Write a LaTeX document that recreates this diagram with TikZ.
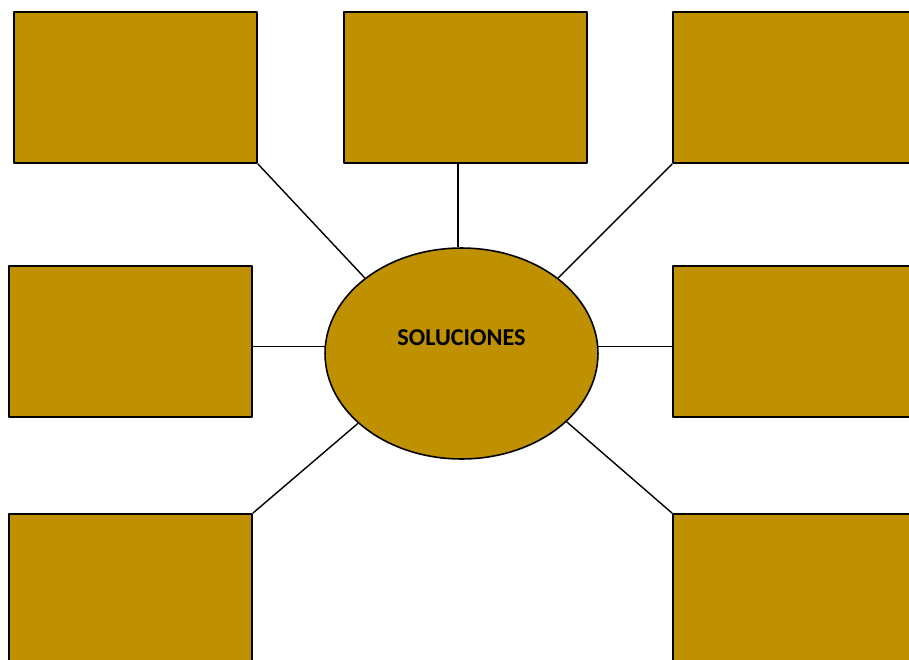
\documentclass[tikz,border=0pt]{standalone}
\usepackage{fontspec}
\setmainfont{Carlito}
\usetikzlibrary{shapes.geometric}
\definecolor{oro}{HTML}{BF9000}
\begin{document}
\begin{tikzpicture}[x=0.02cm, y=-0.02cm, line join=round,
		caja/.style={draw=black, fill=oro, line width=0.9pt, minimum width=4.86cm, minimum height=3.02cm, inner sep=0pt},
		centro/.style={ellipse, draw=black, fill=oro, line width=0.9pt, minimum width=5.46cm, minimum height=4.22cm, inner sep=0pt},
		rama/.style={draw=black, line width=0.8pt}]
		% Page frame
		\useasboundingbox (0,0) rectangle (909,659);
		\clip (0,0) rectangle (909,659);
		% Boxes round the centre
		\node[caja] (arrizq) at (135.5, 87.5) {};
		\node[caja] (arrcen) at (465.5, 87.5) {};
		\node[caja] (arrder) at (794.5, 87.5) {};
		\node[caja] (medizq) at (130.5, 341.5) {};
		\node[caja] (medder) at (794.5, 341.5) {};
		\node[caja] (abaizq) at (130.5, 589.5) {};
		\node[caja] (abader) at (794.5, 589.5) {};
		% Central ellipse
		\node[centro, label={[font=\bfseries\fontsize{13.8}{15}\selectfont, yshift=0.32cm]center:SOLUCIONES}] (sol) at (461.5, 353.5) {};
		% Connectors
		\draw[rama] (arrizq.south east) -- (sol.142);
		\draw[rama] (arrcen.south -| sol.92) -- (sol.92);
		\draw[rama] (arrder.south west) -- (sol.38);
		\draw[rama] (sol.177 -| medizq.east) -- (sol.177);
		\draw[rama] (sol.3) -- (sol.3 -| medder.west);
		\draw[rama] (abaizq.north east) -- (sol.214);
		\draw[rama] (abader.north west) -- (sol.-33);
	\end{tikzpicture}
\end{document}
